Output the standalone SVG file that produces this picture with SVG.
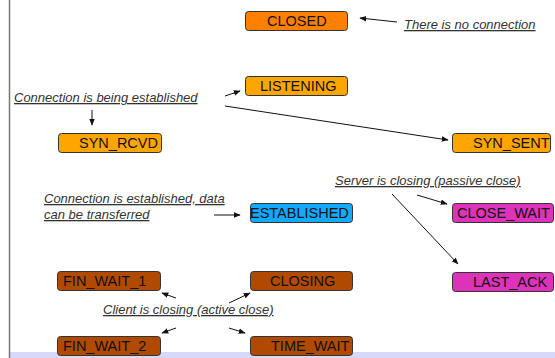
<svg xmlns="http://www.w3.org/2000/svg" width="555" height="358" viewBox="0 0 555 358">
  <defs>
    <marker id="ah" viewBox="0 0 10 10" refX="9" refY="5" markerWidth="7" markerHeight="7" markerUnits="userSpaceOnUse" orient="auto">
      <path d="M0,1 L10,5 L0,9 z" fill="#111"/>
    </marker>
    <style>
      .box { stroke: #333; stroke-width: 1; }
      .st { font-family: "Liberation Sans", Arial, sans-serif; font-size: 14.5px; fill: #111; }
      .note { font-family: "Liberation Sans", Arial, sans-serif; font-size: 13px; font-style: italic; text-decoration: underline; fill: #333; }
      .conn line { stroke: #111; stroke-width: 1; marker-end: url(#ah); }
      .orange { fill: #ffa500; }
      .closed { fill: #ff7f00; }
      .blue { fill: #11aaff; }
      .brown { fill: #b04a00; }
      .pink { fill: #dd33bb; }
    </style>
  </defs>

  <!-- page frame -->
  <rect x="0" y="0" width="555" height="358" fill="#ffffff"/>
  <rect x="9" y="352" width="546" height="6" fill="#d8d8fa"/>
  <line x1="9.5" y1="0" x2="9.5" y2="358" stroke="#777" stroke-width="1.5"/>

  <!-- states -->
  <g id="closed"><rect class="box closed" x="245.5" y="11.5" width="102" height="19" rx="3"/><text class="st" x="267" y="26">CLOSED</text></g>
  <g id="listening"><rect class="box orange" x="245.5" y="76.5" width="102" height="19" rx="3"/><text class="st" x="260" y="91">LISTENING</text></g>
  <g id="syn_rcvd"><rect class="box orange" x="58.5" y="133.5" width="103" height="19" rx="3"/><text class="st" x="79" y="148">SYN_RCVD</text></g>
  <g id="syn_sent"><rect class="box orange" x="452.5" y="133.5" width="98" height="19" rx="3"/><text class="st" x="473" y="148">SYN_SENT</text></g>
  <g id="established"><rect class="box blue" x="250.5" y="203.5" width="102" height="19" rx="3"/><text class="st" x="250" y="218">ESTABLISHED</text></g>
  <g id="close_wait"><rect class="box pink" x="452.5" y="203.5" width="101" height="19" rx="3"/><text class="st" x="457" y="218">CLOSE_WAIT</text></g>
  <g id="fin_wait_1"><rect class="box brown" x="57.5" y="271.5" width="103" height="19" rx="3"/><text class="st" x="63" y="286">FIN_WAIT_1</text></g>
  <g id="closing"><rect class="box brown" x="250.5" y="271.5" width="102" height="19" rx="3"/><text class="st" x="270" y="286">CLOSING</text></g>
  <g id="last_ack"><rect class="box pink" x="452.5" y="272.5" width="101" height="19" rx="3"/><text class="st" x="473" y="287">LAST_ACK</text></g>
  <g id="fin_wait_2"><rect class="box brown" x="57.5" y="336.5" width="103" height="19" rx="3"/><text class="st" x="63" y="351">FIN_WAIT_2</text></g>
  <g id="time_wait"><rect class="box brown" x="250.5" y="336.5" width="102" height="19" rx="3"/><text class="st" x="271" y="351">TIME_WAIT</text></g>

  <!-- notes -->
  <g id="note-none"><text class="note" x="404" y="29">There is no connection</text></g>
  <g id="note-estab"><text class="note" x="14" y="102">Connection is being established</text></g>
  <g id="note-server"><text class="note" x="335" y="185">Server is closing (passive close)</text></g>
  <g id="note-data"><text class="note" x="44" y="203">Connection is established, data</text><text class="note" x="44" y="219">can be transferred</text></g>
  <g id="note-client"><text class="note" x="103" y="314">Client is closing (active close)</text></g>

  <!-- connectors -->
  <g id="connectors" class="conn">
    <line x1="397" y1="22" x2="360" y2="18"/>
    <line x1="225" y1="96" x2="240" y2="91"/>
    <line x1="225" y1="106" x2="448" y2="140"/>
    <line x1="92" y1="110" x2="92" y2="125"/>
    <line x1="214" y1="215" x2="240" y2="215"/>
    <line x1="417" y1="195" x2="447" y2="204"/>
    <line x1="392" y1="194" x2="458" y2="264"/>
    <line x1="176" y1="298" x2="162" y2="293"/>
    <line x1="229" y1="303" x2="250" y2="293"/>
    <line x1="176" y1="328" x2="162" y2="333"/>
    <line x1="229" y1="328" x2="245" y2="333"/>
  </g>
</svg>
